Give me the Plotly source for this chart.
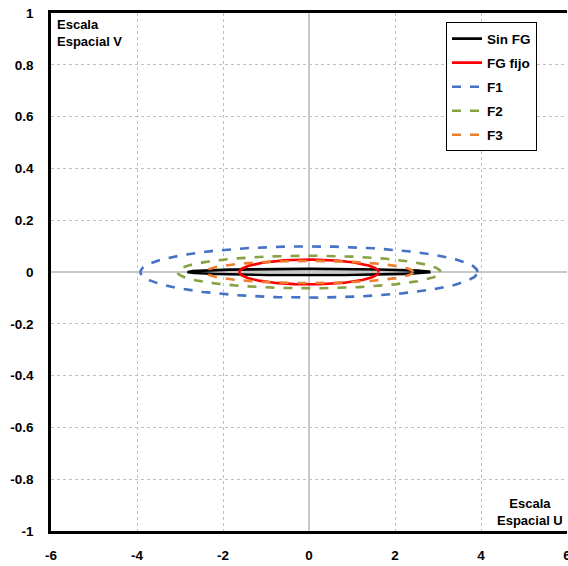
import numpy as np
import plotly.graph_objects as go

# Elliptical footprints in the (U, V) spatial-scale plane
series_names = ["Sin FG", "FG fijo", "F1", "F2", "F3"]
semi_u = [2.82, 1.62, 3.92, 3.06, 2.42]
semi_v = [0.012, 0.048, 0.099, 0.063, 0.043]
colors = ["#000000", "#FF0000", "#4472C4", "#86A343", "#ED7D31"]
dashes = ["solid", "solid", "dash", "dash", "dash"]

x_ticks = [-6, -4, -2, 0, 2, 4, 6]
y_ticks = [-1, -0.8, -0.6, -0.4, -0.2, 0, 0.2, 0.4, 0.6, 0.8, 1]
y_tick_text = ["-1", "-0.8", "-0.6", "-0.4", "-0.2", "0", "0.2", "0.4", "0.6", "0.8", "1"]

t = np.linspace(0, 2 * np.pi, 400)

fig = go.Figure()
for name, a, b, c, d in zip(series_names, semi_u, semi_v, colors, dashes):
    fig.add_trace(go.Scatter(
        x=a * np.cos(t), y=b * np.sin(t), mode="lines", name=name,
        legendgroup=name,
        line=dict(color=c, width=2.6, dash=d),
    ))

FAMILY = "Liberation Sans, Arial, sans-serif"
font = dict(family=FAMILY, size=13, color="#000000")
bold = dict(family=FAMILY, size=13.5, color="#000000", weight="bold")

fig.update_layout(
    width=568, height=566,
    margin=dict(l=51, r=1, t=13, b=35, autoexpand=False),
    paper_bgcolor="white", plot_bgcolor="white",
    font=font,
    showlegend=True,
    legend=dict(
        x=0.7655, y=0.982, xanchor="left", yanchor="top",
        bgcolor="white", bordercolor="#000000", borderwidth=1,
        font=bold, tracegroupgap=3.5, itemwidth=30, entrywidth=84,
    ),
    xaxis=dict(
        range=[-6, 6], tickvals=x_ticks, ticktext=[str(v) for v in x_ticks],
        showgrid=True, gridcolor="#BFBFBF", griddash="dot", gridwidth=1,
        zeroline=True, zerolinecolor="#C8C8C8", zerolinewidth=1.5,
        showline=True, linecolor="#000000", linewidth=2.5, mirror=True,
        ticks="", ticklabelstandoff=10, ticklabeloverflow="allow",
        automargin=False, tickfont=bold,
    ),
    yaxis=dict(
        range=[-1, 1], tickvals=y_ticks, ticktext=y_tick_text,
        showgrid=True, gridcolor="#BFBFBF", griddash="dot", gridwidth=1,
        zeroline=True, zerolinecolor="#C8C8C8", zerolinewidth=1.5,
        showline=True, linecolor="#000000", linewidth=2.5, mirror=False,
        ticks="", ticklabelstandoff=12, ticklabeloverflow="allow",
        automargin=False, tickfont=bold,
    ),
)

fig.add_annotation(
    x=0, y=1, xref="paper", yref="paper", xanchor="left", yanchor="top",
    xshift=4, yshift=-2, align="left", showarrow=False,
    text="<b>Escala<br>Espacial V</b>", font=font,
)
fig.add_annotation(
    x=1, y=0, xref="paper", yref="paper", xanchor="right", yanchor="bottom",
    xshift=-2, yshift=1, align="center", showarrow=False,
    text="<b>Escala<br>Espacial U</b>", font=font,
)

fig.write_html("out.html")
